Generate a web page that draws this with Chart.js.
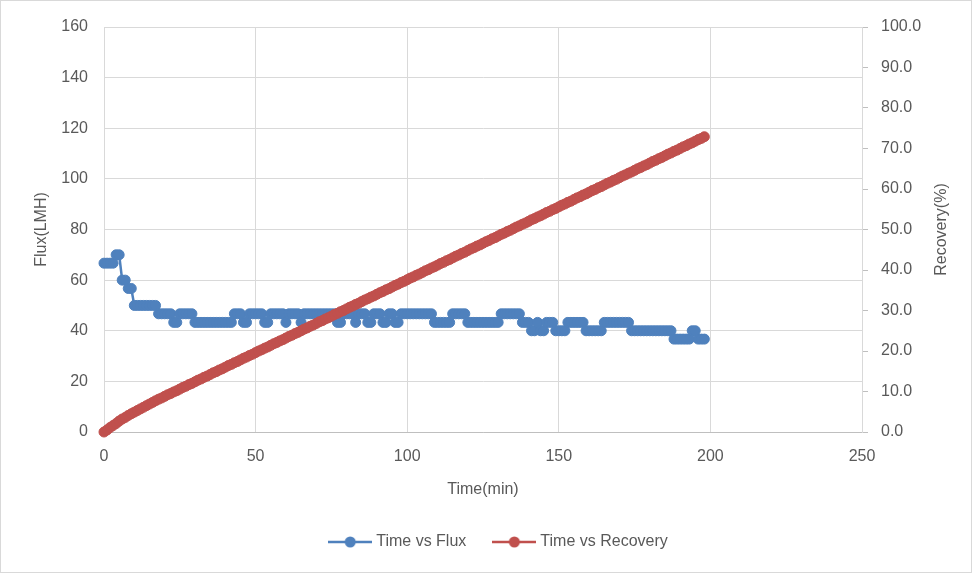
<!DOCTYPE html>
<html>
<head>
<meta charset="utf-8">
<script src="https://cdn.jsdelivr.net/npm/chart.js@4.4.0/dist/chart.umd.min.js"></script>
<style>
  html, body { margin: 0; padding: 0; background: #fff; }
</style>
</head>
<body>
<canvas id="myChart" width="972" height="573"></canvas>
<script>
const timeMin = [
  0, 1, 2, 3, 4, 5, 6, 7, 8, 9, 10, 11, 12, 13, 14, 15, 16, 17, 18, 19,
  20, 21, 22, 23, 24, 25, 26, 27, 28, 29, 30, 31, 32, 33, 34, 35, 36, 37, 38, 39,
  40, 41, 42, 43, 44, 45, 46, 47, 48, 49, 50, 51, 52, 53, 54, 55, 56, 57, 58, 59,
  60, 61, 62, 63, 64, 65, 66, 67, 68, 69, 70, 71, 72, 73, 74, 75, 76, 77, 78, 79,
  80, 81, 82, 83, 84, 85, 86, 87, 88, 89, 90, 91, 92, 93, 94, 95, 96, 97, 98, 99,
  100, 101, 102, 103, 104, 105, 106, 107, 108, 109, 110, 111, 112, 113, 114, 115, 116, 117, 118, 119,
  120, 121, 122, 123, 124, 125, 126, 127, 128, 129, 130, 131, 132, 133, 134, 135, 136, 137, 138, 139,
  140, 141, 142, 143, 144, 145, 146, 147, 148, 149, 150, 151, 152, 153, 154, 155, 156, 157, 158, 159,
  160, 161, 162, 163, 164, 165, 166, 167, 168, 169, 170, 171, 172, 173, 174, 175, 176, 177, 178, 179,
  180, 181, 182, 183, 184, 185, 186, 187, 188, 189, 190, 191, 192, 193, 194, 195, 196, 197, 198
];

const flux = [
  66.7, 66.7, 66.7, 66.7, 70, 70, 60, 60, 56.7, 56.7,
  50, 50, 50, 50, 50, 50, 50, 50, 46.7, 46.7,
  46.7, 46.7, 46.7, 43.3, 43.3, 46.7, 46.7, 46.7, 46.7, 46.7,
  43.3, 43.3, 43.3, 43.3, 43.3, 43.3, 43.3, 43.3, 43.3, 43.3,
  43.3, 43.3, 43.3, 46.7, 46.7, 46.7, 43.3, 43.3, 46.7, 46.7,
  46.7, 46.7, 46.7, 43.3, 43.3, 46.7, 46.7, 46.7, 46.7, 46.7,
  43.3, 46.7, 46.7, 46.7, 46.7, 43.3, 46.7, 46.7, 46.7, 46.7,
  46.7, 46.7, 46.7, 46.7, 46.7, 46.7, 46.7, 43.3, 43.3, 46.7,
  46.7, 46.7, 46.7, 43.3, 46.7, 46.7, 46.7, 43.3, 43.3, 46.7,
  46.7, 46.7, 43.3, 43.3, 46.7, 46.7, 43.3, 43.3, 46.7, 46.7,
  46.7, 46.7, 46.7, 46.7, 46.7, 46.7, 46.7, 46.7, 46.7, 43.3,
  43.3, 43.3, 43.3, 43.3, 43.3, 46.7, 46.7, 46.7, 46.7, 46.7,
  43.3, 43.3, 43.3, 43.3, 43.3, 43.3, 43.3, 43.3, 43.3, 43.3,
  43.3, 46.7, 46.7, 46.7, 46.7, 46.7, 46.7, 46.7, 43.3, 43.3,
  43.3, 40, 40, 43.3, 40, 40, 43.3, 43.3, 43.3, 40,
  40, 40, 40, 43.3, 43.3, 43.3, 43.3, 43.3, 43.3, 40,
  40, 40, 40, 40, 40, 43.3, 43.3, 43.3, 43.3, 43.3,
  43.3, 43.3, 43.3, 43.3, 40, 40, 40, 40, 40, 40,
  40, 40, 40, 40, 40, 40, 40, 40, 36.7, 36.7,
  36.7, 36.7, 36.7, 36.7, 40, 40, 36.7, 36.7, 36.7
];

const recovery = [
  0.0, 0.5, 1.1, 1.6, 2.1, 2.7, 3.2, 3.6, 4.1, 4.5,
  4.9, 5.3, 5.7, 6.1, 6.5, 6.9, 7.3, 7.7, 8.1, 8.4,
  8.8, 9.2, 9.5, 9.9, 10.2, 10.6, 11.0, 11.3, 11.7, 12.0,
  12.4, 12.8, 13.1, 13.5, 13.8, 14.2, 14.6, 14.9, 15.3, 15.6,
  16.0, 16.4, 16.7, 17.1, 17.4, 17.8, 18.2, 18.5, 18.9, 19.2,
  19.6, 20.0, 20.3, 20.7, 21.0, 21.4, 21.8, 22.1, 22.5, 22.8,
  23.2, 23.6, 23.9, 24.3, 24.6, 25.0, 25.4, 25.7, 26.1, 26.4,
  26.8, 27.2, 27.5, 27.9, 28.2, 28.6, 29.0, 29.3, 29.7, 30.0,
  30.4, 30.8, 31.1, 31.5, 31.8, 32.2, 32.6, 32.9, 33.3, 33.6,
  34.0, 34.4, 34.7, 35.1, 35.4, 35.8, 36.2, 36.5, 36.9, 37.2,
  37.6, 38.0, 38.3, 38.7, 39.0, 39.4, 39.8, 40.1, 40.5, 40.8,
  41.2, 41.6, 41.9, 42.3, 42.6, 43.0, 43.4, 43.7, 44.1, 44.4,
  44.8, 45.2, 45.5, 45.9, 46.2, 46.6, 47.0, 47.3, 47.7, 48.0,
  48.4, 48.8, 49.1, 49.5, 49.8, 50.2, 50.6, 50.9, 51.3, 51.6,
  52.0, 52.4, 52.7, 53.1, 53.4, 53.8, 54.2, 54.5, 54.9, 55.2,
  55.6, 56.0, 56.3, 56.7, 57.0, 57.4, 57.8, 58.1, 58.5, 58.8,
  59.2, 59.6, 59.9, 60.3, 60.6, 61.0, 61.4, 61.7, 62.1, 62.4,
  62.8, 63.2, 63.5, 63.9, 64.2, 64.6, 65.0, 65.3, 65.7, 66.0,
  66.4, 66.8, 67.1, 67.5, 67.8, 68.2, 68.6, 68.9, 69.3, 69.6,
  70.0, 70.4, 70.7, 71.1, 71.4, 71.8, 72.2, 72.5, 72.9
];

const BLUE = "#4F81BD";
const RED = "#C0504D";
const TEXT = "#595959";
const GRID = "#d9d9d9";
const FONT = "'Liberation Sans', Arial, sans-serif";

// line + dot symbol for the legend
function legendIcon(color) {
  const c = document.createElement("canvas");
  c.width = 44;
  c.height = 14;
  const g = c.getContext("2d");
  g.strokeStyle = color;
  g.lineWidth = 2.5;
  g.beginPath();
  g.moveTo(0, 7);
  g.lineTo(44, 7);
  g.stroke();
  g.fillStyle = color;
  g.beginPath();
  g.arc(22, 7, 5.5, 0, Math.PI * 2);
  g.fill();
  return c;
}

const frame = {
  id: "frame",
  beforeDraw(chart) {
    const g = chart.ctx;
    g.save();
    g.fillStyle = "#fff";
    g.fillRect(0, 0, chart.width, chart.height);
    g.restore();
  },
  afterDraw(chart) {
    const g = chart.ctx;
    const a = chart.chartArea;
    g.save();
    g.strokeStyle = GRID;
    g.lineWidth = 1;
    g.strokeRect(0.5, 0.5, chart.width - 1, chart.height - 1);
    // secondary axis title, reads bottom to top
    g.translate(942, (a.top + a.bottom) / 2);
    g.rotate(-Math.PI / 2);
    g.fillStyle = TEXT;
    g.font = "16px " + FONT;
    g.textAlign = "center";
    g.textBaseline = "middle";
    g.fillText("Recovery(%)", 0, 0);
    g.restore();
  },
};

const ctx = document.getElementById("myChart");
const myChart = new Chart(ctx, {
  type: "scatter",
  data: {
    datasets: [
      {
        label: "Time vs Flux",
        data: timeMin.map((t, i) => ({ x: t, y: flux[i] })),
        yAxisID: "y",
        showLine: true,
        clip: false,
        borderColor: BLUE,
        backgroundColor: BLUE,
        borderWidth: 2.5,
        pointRadius: 5,
        pointBorderWidth: 1,
        order: 2,
      },
      {
        label: "Time vs Recovery",
        data: timeMin.map((t, i) => ({ x: t, y: recovery[i] })),
        yAxisID: "y1",
        showLine: true,
        clip: false,
        borderColor: RED,
        backgroundColor: RED,
        borderWidth: 2.5,
        pointRadius: 5,
        pointBorderWidth: 1,
        order: 1,
      },
    ],
  },
  options: {
    responsive: false,
    animation: false,
    layout: {
      padding: { top: 27, left: 28, right: 0, bottom: 13 },
    },
    plugins: {
      tooltip: { enabled: false },
      legend: {
        position: "bottom",
        labels: {
          usePointStyle: true,
          pointStyleWidth: 36,
          padding: 30,
          color: TEXT,
          font: { family: FONT, size: 16 },
          generateLabels: (chart) =>
            chart.data.datasets.map((ds, i) => ({
              text: ds.label,
              datasetIndex: i,
              pointStyle: legendIcon(ds.borderColor),
              fillStyle: ds.borderColor,
              strokeStyle: ds.borderColor,
              lineWidth: 0,
              fontColor: TEXT,
              hidden: !chart.isDatasetVisible(i),
            })),
        },
      },
    },
    scales: {
      x: {
        type: "linear",
        min: 0,
        max: 250,
        ticks: {
          stepSize: 50,
          padding: 15,
          color: TEXT,
          font: { family: FONT, size: 16 },
        },
        grid: { color: GRID, drawTicks: false },
        border: { color: "#bfbfbf" },
        title: {
          display: true,
          text: "Time(min)",
          color: TEXT,
          font: { family: FONT, size: 16 },
          padding: { top: 4, bottom: 5 },
        },
        afterFit: (s) => {
          s.height = 72;
        },
      },
      y: {
        position: "left",
        min: 0,
        max: 160,
        ticks: {
          stepSize: 20,
          padding: 16,
          color: TEXT,
          font: { family: FONT, size: 16 },
        },
        grid: { color: GRID, drawTicks: false },
        border: { color: GRID },
        title: {
          display: true,
          text: "Flux(LMH)",
          color: TEXT,
          font: { family: FONT, size: 16 },
          padding: { top: 4, bottom: 4 },
        },
        afterFit: (s) => {
          s.width = 76;
        },
      },
      y1: {
        position: "right",
        min: 0,
        max: 100,
        ticks: {
          stepSize: 10,
          padding: 13,
          color: TEXT,
          font: { family: FONT, size: 16 },
          callback: (v) => v.toFixed(1),
        },
        grid: { drawOnChartArea: false, color: "#bfbfbf", tickLength: 6 },
        border: { color: GRID },
        afterFit: (s) => {
          s.width = 110;
        },
      },
    },
  },
  plugins: [frame],
});
</script>
</body>
</html>
